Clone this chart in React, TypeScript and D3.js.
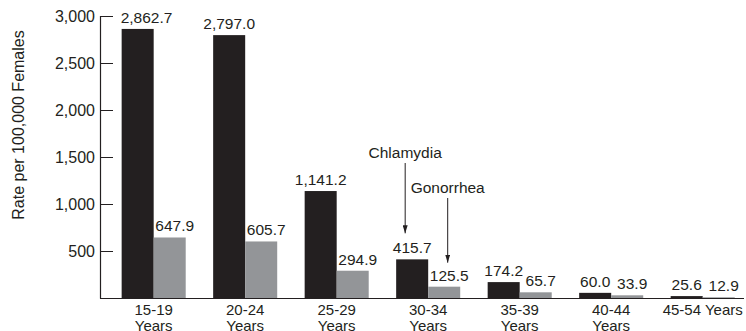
import React from "react";
import * as d3 from "d3";

const categories = ["15-19|Years", "20-24|Years", "25-29|Years", "30-34|Years", "35-39|Years", "40-44|Years", "45-54 Years"];
const seriesNames = ["Chlamydia", "Gonorrhea"];
const chlamydia = [2862.7, 2797.0, 1141.2, 415.7, 174.2, 60.0, 25.6];
const gonorrhea = [647.9, 605.7, 294.9, 125.5, 65.7, 33.9, 12.9];
const yTicks = [500, 1000, 1500, 2000, 2500, 3000];
const yTitle = "Rate per 100,000 Females";
const annotatedCategory = "30-34|Years";

const W = 746;
const H = 331;
const colors = ["#231f20", "#939598"];
const font = "'Liberation Sans', Arial, Helvetica, sans-serif";
const fmt = d3.format(",.1f");
const fmtTick = d3.format(",");
const LFS = 15.5;
const labelShift = [0, 5];

function estWidth(s: string, fs: number) {
  let w = 0;
  for (const ch of s) w += ch === "," || ch === "." ? 0.278 : 0.556;
  return w * fs;
}

export default function App() {
  const x = d3.scaleBand<string>().domain(categories).range([100, 744]).paddingInner(0.3).paddingOuter(0.169).align(0.7);
  const xs = d3.scaleBand<string>().domain(seriesNames).range([0, x.bandwidth()]).padding(0);
  const y = d3.scaleLinear().domain([0, 3000]).range([298.5, 16]);
  const series = [chlamydia, gonorrhea];
  const axisX = 100.5;
  const tickEnd = 113;
  const baseY = y(0);
  const ai = categories.indexOf(annotatedCategory);
  const ax0 = x(annotatedCategory)!;
  const chlX = ax0 + xs("Chlamydia")! + xs.bandwidth() / 2 - 7;
  const gonX = ax0 + xs("Gonorrhea")! + xs.bandwidth() / 2 + 3.5;
  const chlTip = y(chlamydia[ai]) - 26;
  const gonTip = y(gonorrhea[ai]) - 24;

  return (
    <svg width={W} height={H} style={{ position: "absolute", left: 0, top: 0, background: "#fff" }} fontFamily={font}>
      <defs>
        <marker id="ah" viewBox="0 0 8 5" refX="8" refY="2.5" markerWidth="8" markerHeight="5" markerUnits="userSpaceOnUse" orient="auto">
          <path d="M0,0 L8,2.5 L0,5 Z" fill="#231f20" />
        </marker>
      </defs>
      {categories.map((c, i) =>
        seriesNames.map((s, j) => {
          const v = series[j][i];
          const bx = x(c)! + xs(s)!;
          return <rect key={c + s} x={bx} y={y(v)} width={xs.bandwidth()} height={baseY - y(v)} fill={colors[j]} />;
        })
      )}
      {categories.map((c, i) =>
        seriesNames.map((s, j) => {
          const v = series[j][i];
          const bx = x(c)! + xs(s)!;
          const label = fmt(v);
          const w = estWidth(label, LFS);
          let left = bx + xs.bandwidth() / 2 - w / 2 + labelShift[j];
          if (left < tickEnd + 4) left = bx - 1;
          return (
            <text key={"l" + c + s} x={left + w / 2} y={y(v) - 6} textAnchor="middle" fontSize={LFS} fill="#231f20">
              {label}
            </text>
          );
        })
      )}
      <line x1={axisX} x2={axisX} y1={y(3000)} y2={baseY} stroke="#231f20" strokeWidth={1.2} />
      <line x1={100} x2={744} y1={baseY} y2={baseY} stroke="#231f20" strokeWidth={1.2} />
      {yTicks.map((t) => (
        <g key={t}>
          <line x1={axisX} x2={tickEnd} y1={Math.round(y(t)) + 0.5} y2={Math.round(y(t)) + 0.5} stroke="#231f20" strokeWidth={1} />
          <text x={95} y={y(t)} dy="0.36em" textAnchor="end" fontSize={16} fill="#231f20">
            {fmtTick(t)}
          </text>
        </g>
      ))}
      <text transform={`translate(24,125) rotate(-90)`} textAnchor="middle" fontSize={16} fill="#231f20">
        {yTitle}
      </text>
      {categories.map((c) => {
        const cx = x(c)! + x.bandwidth() / 2;
        const lines = c.split("|");
        return (
          <text key={"x" + c} x={cx} y={314.5} textAnchor="middle" fontSize={15} fill="#231f20">
            {lines.map((ln, k) => (
              <tspan key={k} x={cx} dy={k === 0 ? 0 : 16}>
                {ln}
              </tspan>
            ))}
          </text>
        );
      })}
      <text x={chlX} y={158} textAnchor="middle" fontSize={LFS} fill="#231f20">Chlamydia</text>
      <line x1={chlX} x2={chlX} y1={163} y2={chlTip} stroke="#231f20" strokeWidth={1} markerEnd="url(#ah)" />
      <text x={gonX} y={193} textAnchor="middle" fontSize={LFS} fill="#231f20">Gonorrhea</text>
      <line x1={gonX} x2={gonX} y1={198} y2={gonTip} stroke="#231f20" strokeWidth={1} markerEnd="url(#ah)" />
    </svg>
  );
}
